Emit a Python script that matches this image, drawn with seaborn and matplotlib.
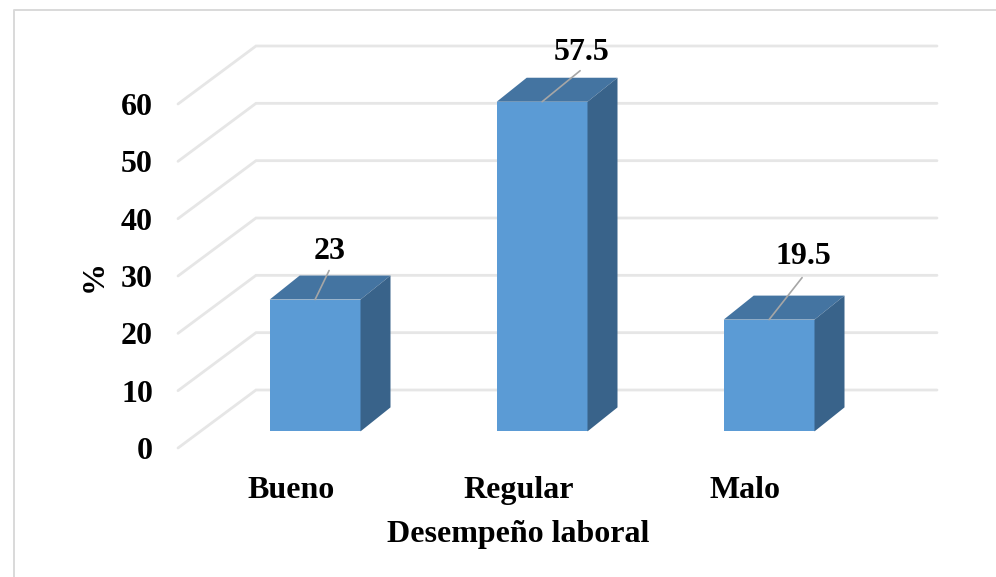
import matplotlib
matplotlib.use("Agg")
import matplotlib.pyplot as plt
from matplotlib.lines import Line2D
from matplotlib.patches import Polygon
import pandas as pd
import seaborn as sns

# Survey results
categories = ["Bueno", "Regular", "Malo"]
percentages = [23, 57.5, 19.5]
y_ticks = [0, 10, 20, 30, 40, 50, 60]

# Pixel offsets of each value label and its leader line from the bar top
label_offsets = [(15, 48), (39, 49), (34, 63)]
leader_offsets = [(14, 29), (38, 31), (33, 42)]

W, H = 996, 577
FACE = "#5B9BD5"
TOP = "#4474A1"
SIDE = "#39638A"
GRID = "#E6E6E6"

sns.set_theme(style="white")
plt.rcParams["font.family"] = ["Liberation Serif", "DejaVu Serif"]
plt.rcParams["font.weight"] = "bold"
FS = 23

fig = plt.figure(figsize=(W / 100, H / 100), dpi=100, facecolor="white")


def axes_px(left, bottom_y, right, top_y):
    return fig.add_axes([left / W, 1 - bottom_y / H, (right - left) / W, (bottom_y - top_y) / H])


# Front plane of the 3D box: carries the scales and the axis text
ax_front = axes_px(178, 448, 859, 104)
ax_front.set_xlim(-0.5, 2.5)
ax_front.set_ylim(0, 60)
ax_front.set_yticks(y_ticks)
ax_front.set_xticks(range(len(categories)))
ax_front.set_xticklabels(categories)
ax_front.tick_params(axis="both", length=0, labelsize=FS, colors="black")
ax_front.tick_params(axis="y", pad=18)
ax_front.tick_params(axis="x", pad=20)
ax_front.set_xlabel("Desempeño laboral", fontsize=FS, fontweight="bold", color="black", labelpad=11)
ax_front.set_ylabel("%", fontsize=FS, fontweight="bold", color="black", labelpad=9)
sns.despine(ax=ax_front, left=True, bottom=True, top=True, right=True)

# Wall and floor gridlines, receding from the front plane to the back wall
wall_dx = 78 / 227
wall_dy = 58 / (344 / 60)
for v in y_ticks:
    ax_front.plot([-0.5, -0.5 + wall_dx, 2.5 + wall_dx], [v, v + wall_dy, v + wall_dy],
                  color=GRID, lw=2.0, clip_on=False, solid_joinstyle="miter", zorder=1)

# Bars stand part way into the box, so their axes are shifted from the front plane
ax = axes_px(201.6, 431.4, 882.6, 87.4)
ax.patch.set_alpha(0)
df = pd.DataFrame({"categoria": categories, "porcentaje": percentages})
sns.barplot(data=df, x="categoria", y="porcentaje", order=categories, color=FACE,
            saturation=1, width=0.4, linewidth=0, ax=ax, zorder=3)
ax.set_xlim(-0.5, 2.5)
ax.set_ylim(0, 60)
ax.axis("off")

# Top and side faces extruded from each bar
depth_dx = 30 / 227
depth_dy = 24 / (344 / 60)
half = 0.2
for i, v in enumerate(percentages):
    xl, xr = i - half, i + half
    ax.add_patch(Polygon([(xl, v), (xr, v), (xr + depth_dx, v + depth_dy), (xl + depth_dx, v + depth_dy)],
                         closed=True, facecolor=TOP, edgecolor="none", clip_on=False, zorder=3))
    ax.add_patch(Polygon([(xr, 0), (xr + depth_dx, depth_dy), (xr + depth_dx, v + depth_dy), (xr, v)],
                         closed=True, facecolor=SIDE, edgecolor="none", clip_on=False, zorder=3))

# Value labels with leader lines
for i, v in enumerate(percentages):
    ax.annotate("", xy=(i, v), xytext=leader_offsets[i], textcoords="offset pixels",
                arrowprops=dict(arrowstyle="-", color="#A6A6A6", lw=1.2, shrinkA=0, shrinkB=0),
                annotation_clip=False, zorder=5)
    ax.annotate(f"{v:g}", xy=(i, v), xytext=label_offsets[i], textcoords="offset pixels",
                ha="center", va="center", fontsize=FS, fontweight="bold", color="black",
                annotation_clip=False, zorder=5)

# Chart frame: top and left edges only
frame = "#D9D9D9"
fig.add_artist(Line2D([13.5 / W, 13.5 / W, 1], [0, 1 - 9.5 / H, 1 - 9.5 / H],
                      color=frame, lw=1.4, transform=fig.transFigure))

fig.savefig("out.png", dpi=100)
